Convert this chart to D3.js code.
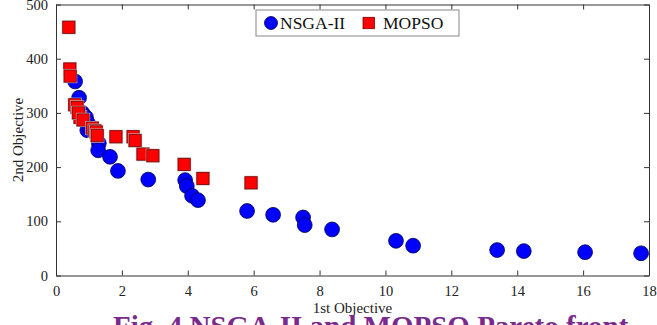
<!DOCTYPE html>
<html><head><meta charset="utf-8">
<script src="https://cdn.jsdelivr.net/npm/d3@7"></script>
<style>
body{margin:0;background:#fff;overflow:hidden}
text{font-family:"Liberation Serif","Times New Roman",serif}
</style></head>
<body><svg id="c" width="657" height="325"></svg>
<script>
const nsgaX = [0.58, 0.70, 0.80, 0.91, 0.97, 0.95, 1.03, 1.30, 1.28, 1.64, 1.88, 2.80, 3.92, 3.97, 4.13, 4.31, 5.80, 6.59, 7.50, 7.55, 8.38, 10.32, 10.84, 13.39, 14.20, 16.06, 17.76];
const nsgaY = [358, 328, 300, 292, 281, 268, 272, 244, 231, 219, 193, 177, 176, 165, 147, 139, 119, 112, 107, 93, 85, 64, 55, 47, 45, 43, 41];
const mopsoX = [0.39, 0.42, 0.43, 0.57, 0.64, 0.73, 0.68, 0.82, 1.10, 1.18, 1.22, 1.25, 1.82, 2.34, 2.40, 2.64, 2.94, 3.89, 4.46, 5.92];
const mopsoY = [458, 381, 368, 315, 310, 292, 300, 287, 272, 267, 265, 258, 256, 256, 249, 224, 221, 205, 179, 171];
const xTicks = [0, 2, 4, 6, 8, 10, 12, 14, 16, 18];
const yTicks = [0, 100, 200, 300, 400, 500];
const seriesNames = ["NSGA-II", "MOPSO"];
const xLabel = "1st Objective", yLabel = "2nd Objective";
const caption = "Fig. 4 NSGA-II and MOPSO Pareto front";

const svg = d3.select("#c");
const L = 56, R = 649, T = 4.5, B = 275.5;
const x = d3.scaleLinear().domain([0, 18]).range([L, R]);
const y = d3.scaleLinear().domain([0, 500]).range([B, T]);
const axisCol = "#333";

// axes
const gB = svg.append("g").attr("transform", `translate(0,${B})`)
  .call(d3.axisBottom(x).tickValues(xTicks).tickSizeInner(-5).tickSizeOuter(0).tickPadding(10));
const gT = svg.append("g").attr("transform", `translate(0,${T})`)
  .call(d3.axisTop(x).tickValues(xTicks).tickSizeInner(-5).tickSizeOuter(0).tickFormat(""));
const gL = svg.append("g").attr("transform", `translate(${L},0)`)
  .call(d3.axisLeft(y).tickValues(yTicks).tickSizeInner(-5).tickSizeOuter(0).tickPadding(8));
const gR = svg.append("g").attr("transform", `translate(${R},0)`)
  .call(d3.axisRight(y).tickValues(yTicks).tickSizeInner(-5).tickSizeOuter(0).tickFormat(""));
[gB, gT, gL, gR].forEach(g => {
  g.selectAll("path").attr("stroke", axisCol);
  g.selectAll("line").attr("stroke", axisCol);
  g.selectAll("text").attr("font-size", 14.5).attr("fill", "#222").attr("font-family", "Liberation Serif");
});

// NSGA-II circles
svg.append("g").selectAll("circle").data(nsgaX.map((v, i) => [v, nsgaY[i]])).join("circle")
  .attr("cx", d => x(d[0])).attr("cy", d => y(d[1])).attr("r", 7.4)
  .attr("fill", "#0000ff").attr("stroke", "#000050").attr("stroke-width", 0.8);

// MOPSO squares
const s = 12.2;
const sq = svg.append("g").selectAll("g").data(mopsoX.map((v, i) => [v, mopsoY[i]])).join("g");
sq.append("rect")
  .attr("x", d => x(d[0]) - s / 2 - 1).attr("y", d => y(d[1]) - s / 2 - 1)
  .attr("width", s + 2).attr("height", s + 2).attr("fill", "#c8c8c8");
sq.append("rect")
  .attr("x", d => x(d[0]) - s / 2).attr("y", d => y(d[1]) - s / 2)
  .attr("width", s).attr("height", s)
  .attr("fill", "#ff0000").attr("stroke", "#7a0000").attr("stroke-width", 0.8);

// axis labels
svg.append("text").attr("x", (L + R) / 2).attr("y", 313).attr("text-anchor", "middle")
  .attr("font-size", 15).attr("fill", "#222").text(xLabel);
svg.append("text").attr("transform", `translate(23,${(T + B) / 2}) rotate(-90)`)
  .attr("text-anchor", "middle").attr("font-size", 15).attr("fill", "#222").text(yLabel);

// legend
const lg = svg.append("g");
lg.append("rect").attr("x", 256).attr("y", 10).attr("width", 203).attr("height", 26)
  .attr("fill", "#fff").attr("stroke", "#888").attr("stroke-width", 1);
lg.append("circle").attr("cx", 271).attr("cy", 23).attr("r", 6.5)
  .attr("fill", "#0000ff").attr("stroke", "#000050").attr("stroke-width", 0.8);
lg.append("text").attr("x", 280).attr("y", 29).attr("font-size", 17.5).attr("fill", "#111").text(seriesNames[0]);
lg.append("rect").attr("x", 363).attr("y", 17.3).attr("width", 11.4).attr("height", 11.4)
  .attr("fill", "#ff0000").attr("stroke", "#7a0000").attr("stroke-width", 0.8);
lg.append("text").attr("x", 383).attr("y", 29).attr("font-size", 17.5).attr("fill", "#111").text(seriesNames[1]);

// caption (clipped by window, only its top shows)
svg.append("text").attr("x", 113).attr("y", 336).attr("font-size", 29).attr("font-weight", "bold")
  .attr("fill", "#7a2a8c").text(caption);
</script></body></html>
